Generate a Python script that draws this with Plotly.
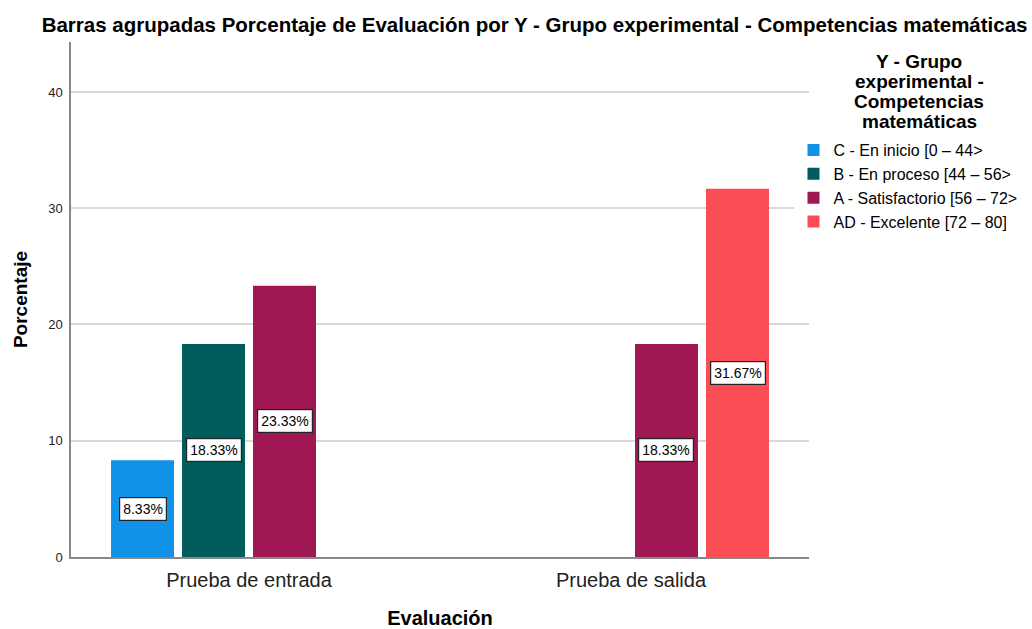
import plotly.graph_objects as go

categories = ["Prueba de entrada", "Prueba de salida"]
series_names = ["C - En inicio [0 – 44>", "B - En proceso [44 – 56>",
                "A - Satisfactorio [56 – 72>", "AD - Excelente [72 – 80]"]
values_C = [8.33, None]
values_B = [18.33, None]
values_A = [23.33, 18.33]
values_AD = [None, 31.67]
colors = ["#1192e8", "#005d5d", "#9f1853", "#fa4d56"]
legend_title_lines = ["Y - Grupo", "experimental -", "Competencias", "matemáticas"]

all_values = [values_C, values_B, values_A, values_AD]

FONT = "Liberation Sans, Arial, sans-serif"
PLOT_TOP, PLOT_H = 42, 515

fig = go.Figure()
for name, vals, col in zip(series_names, all_values, colors):
    fig.add_trace(go.Bar(
        x=categories, y=vals, name=name,
        marker=dict(color=col, line=dict(width=0)),
    ))

bargap = 0.2565
nser = len(series_names)
slot = (1 - bargap) / nser
annotations = []
for k, vals in enumerate(all_values):
    for i, v in enumerate(vals):
        if v is None:
            continue
        annotations.append(dict(
            x=i + (k - (nser - 1) / 2) * slot, y=v / 2, xref="x", yref="y",
            text=f"{v:.2f}%", showarrow=False,
            font=dict(family=FONT, size=14, color="#000"),
            bgcolor="white", bordercolor="#222", borderwidth=1.2, borderpad=3,
        ))

# legend title, one line each, centred over the legend
for j, line in enumerate(legend_title_lines):
    ypix = 62 + 20 * j
    annotations.append(dict(
        x=1.1495, y=1 - (ypix - PLOT_TOP) / PLOT_H, xref="paper", yref="paper",
        xanchor="center", yanchor="middle", text=f"<b>{line}</b>", showarrow=False,
        font=dict(family=FONT, size=19, color="#000"),
    ))

fig.update_layout(
    width=1032, height=629,
    margin=dict(l=71, r=223, t=42, b=72, autoexpand=False),
    paper_bgcolor="white", plot_bgcolor="white",
    barmode="group", bargap=bargap, bargroupgap=0.113,
    font=dict(family=FONT, color="#000"),
    title=dict(
        text="<b>Barras agrupadas Porcentaje de Evaluación por Y - Grupo experimental - Competencias matemáticas</b>",
        x=0.518, xanchor="center", y=0.960, yanchor="middle",
        font=dict(family=FONT, size=20.5, color="#000"),
    ),
    xaxis=dict(
        range=[-0.466, 1.466], showgrid=False, showline=True, automargin=False,
        linecolor="#888", linewidth=1.5, ticks="outside", ticklen=4,
        tickcolor="rgba(0,0,0,0)",
        tickfont=dict(family=FONT, size=20, color="#222"),
        title=dict(text="<b>Evaluación</b>", font=dict(family=FONT, size=20, color="#000"), standoff=23),
    ),
    yaxis=dict(
        range=[0, 44.3], tickvals=[0, 10, 20, 30, 40], showgrid=True, automargin=False,
        gridcolor="#d9d9d9", gridwidth=1.5, zeroline=False, showline=True,
        linecolor="#888", linewidth=1.5, ticks="outside", ticklen=4,
        tickcolor="rgba(0,0,0,0)",
        tickfont=dict(family=FONT, size=13, color="#222"),
        title=dict(text="<b>Porcentaje</b>", font=dict(family=FONT, size=19, color="#000"), standoff=16),
    ),
    legend=dict(
        x=0.979, xanchor="left", y=0.823, yanchor="top",
        font=dict(family=FONT, size=16, color="#000"),
        tracegroupgap=0, itemwidth=30,
    ),
    annotations=annotations,
)

fig.write_html("out.html", config={"displayModeBar": False},
               post_script="document.body.style.margin='0';")
